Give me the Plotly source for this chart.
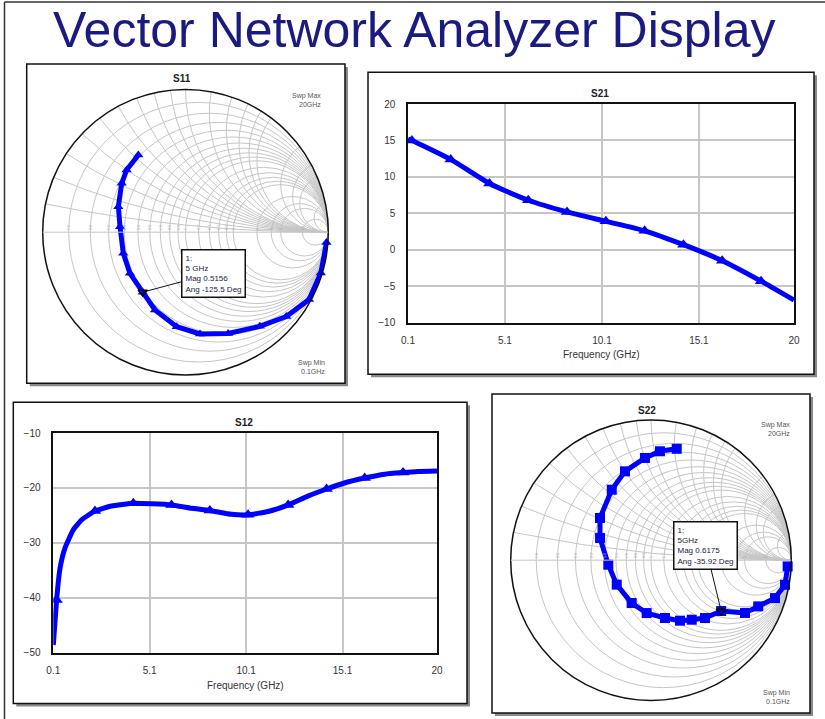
import numpy as np
import plotly.graph_objects as go

W, H = 825, 719
BLUE = "#0000ff"
GRID = "#c6c6c6"
FONT = "Liberation Sans"

# ---------------- data ----------------
# S21 gain (dB) versus frequency (GHz)
freq_s21 = [0.1, 0.3, 2.3, 4.3, 6.3, 8.3, 10.3, 12.3, 14.3, 16.3, 18.3, 20.0]
s21_db = [15.2, 15.0, 12.4, 9.1, 6.8, 5.2, 3.9, 2.6, 0.7, -1.5, -4.3, -6.9]

# S12 isolation (dB) versus frequency (GHz)
freq_s12 = [0.1, 0.27, 0.45, 0.7, 1.14, 1.57, 2.26, 3.12, 4.25, 5.2, 6.23, 7.27,
            8.22, 9.34, 10.2, 11.24, 12.28, 13.3, 14.27, 15.2, 16.25, 17.29,
            18.24, 19.0, 20.0]
s12_db = [-48.6, -40.4, -34.6, -31.0, -27.6, -25.8, -24.2, -23.3, -22.8, -22.9,
          -23.1, -23.7, -24.1, -24.8, -24.9, -24.3, -23.1, -21.5, -20.2, -19.1,
          -18.2, -17.5, -17.2, -17.0, -16.9]
marker_freqs = [0.27, 0.3, 2.26, 2.3, 4.25, 4.3, 6.23, 6.3, 8.22, 8.3, 10.2, 10.3,
                12.28, 12.3, 14.27, 14.3, 16.25, 16.3, 18.24, 18.3]

# S11 reflection coefficient, sweep 0.1 GHz -> 20 GHz (magnitude, angle in deg)
s11_mag = [0.99, 0.99, 0.985, 0.92, 0.84, 0.77, 0.72, 0.665, 0.585, 0.5156,
           0.484, 0.46, 0.46, 0.503, 0.563, 0.60, 0.634]
s11_ang = [-4.2, -16.8, -28.6, -39.9, -51.7, -67.2, -81.9, -95.3, -111.4, -125.5,
           -143.5, -161.3, 175.2, 159.2, 142.5, 133.4, 121.4]
s11_m1 = {"freq": "5 GHz", "mag": 0.5156, "ang": -125.5}

# S22 reflection coefficient, sweep 0.1 GHz -> 20 GHz
s22_mag = [0.975, 0.971, 0.924, 0.832, 0.768, 0.6175, 0.564, 0.514, 0.478, 0.424,
           0.378, 0.335, 0.300, 0.306, 0.396, 0.472, 0.575, 0.660, 0.730, 0.779, 0.815]
s22_ang = [-2.6, -10.4, -17.0, -23.3, -29.3, -35.92, -47.0, -55.6, -64.4, -76.4,
           -94.7, -114.3, -144.5, -174.0, 156.5, 140.4, 119.1, 106.3, 93.4, 85.3, 77.0]
s22_m1 = {"freq": "5GHz", "mag": 0.6175, "ang": -35.92}

freq_ticks = [0.1, 5.1, 10.1, 15.1, 20]
freq_ticktext = ["0.1", "5.1", "10.1", "15.1", "20"]

smith_r_ticks = [0.1, 0.2, 0.3, 0.4, 0.5, 0.6, 0.7, 0.8, 0.9, 1.0,
                 1.2, 1.4, 1.6, 1.8, 2.0, 3.0, 4.0, 5.0, 10.0]
smith_x_ticks = [0.1, 0.2, 0.3, 0.4, 0.5, 0.6, 0.7, 0.8, 0.9, 1.0,
                 1.2, 1.4, 1.6, 1.8, 2.0, 3.0, 4.0, 5.0, 10.0]


def to_z(mag, ang):
    g = np.array(mag) * np.exp(1j * np.deg2rad(np.array(ang)))
    z = (1 + g) / (1 - g)
    return z.real, z.imag


def px(x):
    return x / W


def py(y):
    return 1 - y / H


# layout boxes in pixels (left, top, right, bottom)
frames = {
    "s11": (26.7, 64, 345, 383.3),
    "s21": (368, 72.3, 814, 374.3),
    "s12": (13.3, 402.3, 467, 703.5),
    "s22": (492, 394, 810, 713),
}
smith11_dom = dict(x=[px(42.7), px(328.3)], y=[py(375.0), py(89.4)])
smith22_dom = dict(x=[px(510.7), px(791.3)], y=[py(700.5), py(419.9)])
s21_plot = (408, 104, 794, 322.7)
s12_plot = (53.3, 433, 437, 652.7)


def smith_point(dom, mag, ang):
    """Paper coordinates of a reflection coefficient inside a smith domain."""
    x0, x1 = dom["x"]
    y0, y1 = dom["y"]
    r = min((x1 - x0) * W, (y1 - y0) * H) / 2
    cx = (x0 + x1) / 2 * W
    cy = (y0 + y1) / 2 * H
    a = np.deg2rad(ang)
    return (cx + mag * r * np.cos(a)) / W, (cy + mag * r * np.sin(a)) / H


fig = go.Figure()

# ---------------- S21 ----------------
fig.add_trace(go.Scatter(x=freq_s21, y=s21_db, mode="lines",
                         line=dict(color=BLUE, width=5, shape="spline", smoothing=0.6),
                         xaxis="x", yaxis="y", hoverinfo="skip"))
mk21 = [(f, v) for f, v in zip(freq_s21, s21_db) if f in marker_freqs]
fig.add_trace(go.Scatter(x=[m[0] for m in mk21], y=[m[1] for m in mk21], mode="markers",
                         marker=dict(symbol="triangle-up", size=11, color=BLUE),
                         xaxis="x", yaxis="y", hoverinfo="skip"))

# ---------------- S12 ----------------
fig.add_trace(go.Scatter(x=freq_s12, y=s12_db, mode="lines",
                         line=dict(color=BLUE, width=5, shape="spline", smoothing=0.4),
                         xaxis="x2", yaxis="y2", hoverinfo="skip"))
mk12 = [(f, v) for f, v in zip(freq_s12, s12_db) if f in marker_freqs]
fig.add_trace(go.Scatter(x=[m[0] for m in mk12], y=[m[1] for m in mk12], mode="markers",
                         marker=dict(symbol="triangle-up", size=11, color=BLUE),
                         xaxis="x2", yaxis="y2", hoverinfo="skip"))

# ---------------- S11 smith ----------------
re11, im11 = to_z(s11_mag, s11_ang)
fig.add_trace(go.Scattersmith(real=re11, imag=im11, mode="lines+markers", subplot="smith",
                              line=dict(color=BLUE, width=5),
                              marker=dict(symbol="triangle-up", size=9, color=BLUE),
                              hoverinfo="skip"))
mre, mim = to_z([s11_m1["mag"]], [s11_m1["ang"]])
fig.add_trace(go.Scattersmith(real=mre, imag=mim, mode="markers", subplot="smith",
                              marker=dict(symbol="triangle-down-open", size=8,
                                          color="black", line=dict(width=1.5)),
                              hoverinfo="skip"))

# ---------------- S22 smith ----------------
re22, im22 = to_z(s22_mag, s22_ang)
fig.add_trace(go.Scattersmith(real=re22, imag=im22, mode="lines+markers", subplot="smith2",
                              line=dict(color=BLUE, width=5),
                              marker=dict(symbol="square", size=10, color=BLUE),
                              hoverinfo="skip"))
mre, mim = to_z([s22_m1["mag"]], [s22_m1["ang"]])
fig.add_trace(go.Scattersmith(real=mre, imag=mim, mode="markers", subplot="smith2",
                              marker=dict(symbol="triangle-down-open", size=8,
                                          color="black", line=dict(width=1.5)),
                              hoverinfo="skip"))

# ---------------- panels ----------------
shapes = []
for key, (l, t, r, b) in frames.items():
    shapes.append(dict(type="rect", xref="paper", yref="paper", layer="below",
                       x0=px(l + 3), x1=px(r + 3), y0=py(b + 3), y1=py(t + 3),
                       fillcolor="#8a8a8a", line=dict(width=0)))
    shapes.append(dict(type="rect", xref="paper", yref="paper", layer="below",
                       x0=px(l), x1=px(r), y0=py(b), y1=py(t),
                       fillcolor="white", line=dict(color="#111", width=1.5)))
# page border (left and top edges)
shapes.append(dict(type="line", xref="paper", yref="paper", layer="below",
                   x0=px(4.5), x1=px(4.5), y0=0, y1=py(2), line=dict(color="#333", width=1.5)))
shapes.append(dict(type="line", xref="paper", yref="paper", layer="below",
                   x0=px(4.5), x1=1, y0=py(2), y1=py(2), line=dict(color="#333", width=1.5)))

# ---------------- text ----------------
small = dict(family=FONT, size=7, color="#555")
head = dict(family=FONT, size=10, color="#222")
ann = [
    dict(text="Vector Network Analyzer Display", x=px(414), y=py(30),
         font=dict(family=FONT, size=50, color="#1a1a80")),
    dict(text="<b>S11</b>", x=px(182), y=py(79), font=head),
    dict(text="<b>S21</b>", x=px(600), y=py(93), font=head),
    dict(text="<b>S12</b>", x=px(244), y=py(422), font=head),
    dict(text="<b>S22</b>", x=px(647), y=py(410), font=head),
    dict(text="Frequency (GHz)", x=px(601), y=py(355), font=dict(family=FONT, size=10, color="#333")),
    dict(text="Frequency (GHz)", x=px(245), y=py(685), font=dict(family=FONT, size=10, color="#333")),
    dict(text="Swp Max<br>20GHz", x=px(323), y=py(100), xanchor="right", align="right", font=small),
    dict(text="Swp Min<br>0.1GHz", x=px(327), y=py(367), xanchor="right", align="right", font=small),
    dict(text="Swp Max<br>20GHz", x=px(792), y=py(429), xanchor="right", align="right", font=small),
    dict(text="Swp Min<br>0.1GHz", x=px(792), y=py(697), xanchor="right", align="right", font=small),
]
for a in ann:
    a.setdefault("xref", "paper")
    a.setdefault("yref", "paper")
    a.setdefault("showarrow", False)
    a.setdefault("xanchor", "center")
    a.setdefault("yanchor", "middle")

box_font = dict(family=FONT, size=8, color="#202040")
for dom, m, off in [(smith11_dom, s11_m1, (71, -19)), (smith22_dom, s22_m1, (-16, -66))]:
    mx, my = smith_point(dom, m["mag"], m["ang"])
    ann.append(dict(
        text=f"1:<br>{m['freq']}<br>Mag {m['mag']:g}<br>Ang {m['ang']:g} Deg",
        x=mx, y=my, xref="paper", yref="paper", showarrow=True,
        arrowhead=0, arrowwidth=1, arrowcolor="#111", ax=off[0], ay=off[1],
        align="left", bgcolor="white", bordercolor="#111", borderwidth=1.5,
        borderpad=3, font=box_font))

axis_common = dict(showline=True, mirror=True, linecolor="#111", linewidth=1.5,
                   gridcolor=GRID, gridwidth=1.5, zeroline=False, automargin=False,
                   tickfont=dict(family=FONT, size=10, color="#333"),
                   ticks="outside", tickcolor="rgba(0,0,0,0)", fixedrange=True)

smith_axes = dict(
    bgcolor="rgba(0,0,0,0)",
    realaxis=dict(tickvals=smith_r_ticks, gridcolor=GRID, gridwidth=1,
                  linecolor=GRID, linewidth=1, showline=True,
                  tickfont=dict(family=FONT, size=4, color="#b0b0b0"), ticks=""),
    imaginaryaxis=dict(tickvals=smith_x_ticks, gridcolor=GRID, gridwidth=1,
                       linecolor="#111", linewidth=1.5, showline=True,
                       showticklabels=False, ticks=""),
)

fig.update_layout(
    width=W, height=H, margin=dict(l=0, r=0, t=0, b=0, pad=0, autoexpand=False),
    paper_bgcolor="white", plot_bgcolor="rgba(0,0,0,0)",
    showlegend=False,
    shapes=shapes, annotations=ann,
    xaxis=dict(domain=[px(s21_plot[0]), px(s21_plot[2])], range=[0.1, 20],
               tickvals=freq_ticks, ticktext=freq_ticktext, ticklen=8, anchor="y",
               **axis_common),
    yaxis=dict(domain=[py(s21_plot[3]), py(s21_plot[1])], range=[-10, 20], dtick=5,
               ticklen=9, anchor="x", **axis_common),
    xaxis2=dict(domain=[px(s12_plot[0]), px(s12_plot[2])], range=[0.1, 20],
                tickvals=freq_ticks, ticktext=freq_ticktext, ticklen=8, anchor="y2",
                **axis_common),
    yaxis2=dict(domain=[py(s12_plot[3]), py(s12_plot[1])], range=[-50, -10], dtick=10,
                ticklen=9, anchor="x2", **axis_common),
    smith=dict(domain=smith11_dom, **smith_axes),
    smith2=dict(domain=smith22_dom, **smith_axes),
)

fig.write_html("out.html")
